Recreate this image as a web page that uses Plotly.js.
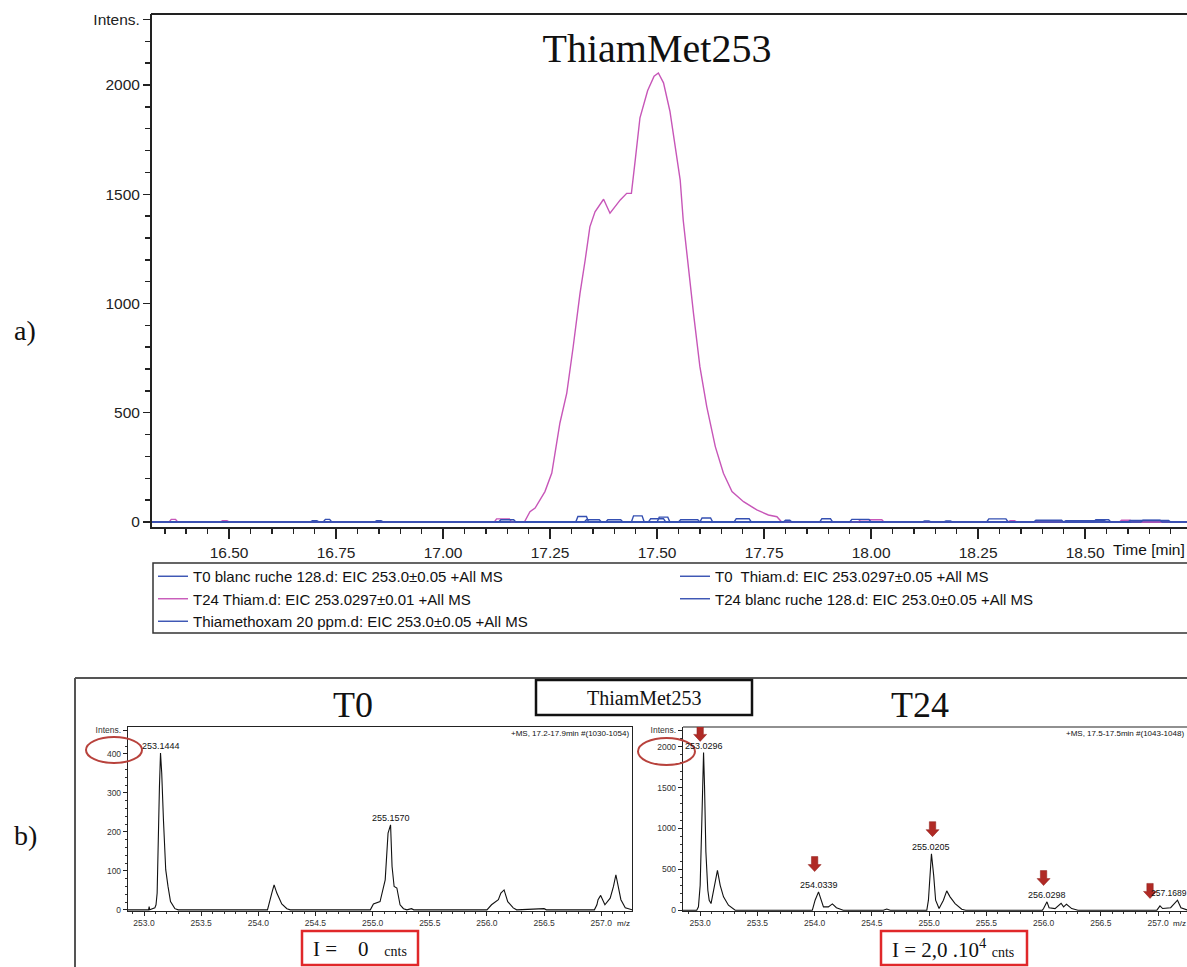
<!DOCTYPE html>
<html>
<head>
<meta charset="utf-8">
<script src="https://cdn.plot.ly/plotly-3.0.1.min.js"></script>
<style>html,body{margin:0;padding:0;background:#fff;overflow:hidden;}#chart{width:1187px;height:967px;}</style>
</head>
<body>
<div id="chart"></div>
<script>
// ---------- a) EIC chromatogram data ----------
const legendNames = [
  "T0 blanc ruche 128.d: EIC 253.0±0.05 +All MS",
  "T0  Thiam.d: EIC 253.0297±0.05 +All MS",
  "T24 Thiam.d: EIC 253.0297±0.01 +All MS",
  "T24 blanc ruche 128.d: EIC 253.0±0.05 +All MS",
  "Thiamethoxam 20 ppm.d: EIC 253.0±0.05 +All MS"
];
const t0BlancTime = [16.32, 16.69, 16.695, 16.705, 16.71, 16.84, 16.845, 16.855, 16.86, 17.33, 17.335, 17.365, 17.37, 18.17, 18.175, 18.185, 18.19, 18.45, 18.455, 18.545, 18.55, 18.74];
const t0BlancInt  = [0, 0, 6, 6, 0, 0, 6, 6, 0, 0, 10, 10, 0, 0, 5, 5, 0, 0, 6, 6, 0, 0];
const t0ThiamTime = [16.32, 16.72, 16.725, 16.735, 16.74, 17.31, 17.315, 17.335, 17.34, 17.44, 17.445, 17.465, 17.47, 17.5, 17.505, 17.525, 17.53, 17.6, 17.605, 17.625, 17.63, 17.88, 17.885, 17.905, 17.91, 18.27, 18.275, 18.315, 18.32, 18.52, 18.525, 18.555, 18.56, 18.74];
const t0ThiamInt  = [0, 0, 12, 12, 0, 0, 25, 25, 0, 0, 28, 28, 0, 0, 22, 22, 0, 0, 18, 18, 0, 0, 15, 15, 0, 0, 14, 14, 0, 0, 10, 10, 0, 0];
const t24ThiamTime = [16.32, 16.36, 16.365, 16.375, 16.38, 16.48, 16.485, 16.495, 16.5, 17.12, 17.125, 17.155, 17.16, 17.19, 17.203, 17.215, 17.238, 17.254, 17.273, 17.289, 17.304, 17.32, 17.332, 17.343, 17.355, 17.375, 17.39, 17.414, 17.429, 17.44, 17.449, 17.46, 17.478, 17.493, 17.503, 17.515, 17.53, 17.546, 17.554, 17.561, 17.573, 17.585, 17.6, 17.616, 17.636, 17.655, 17.675, 17.702, 17.733, 17.76, 17.78, 17.791, 17.97, 17.975, 18.025, 18.03, 18.32, 18.325, 18.335, 18.34, 18.58, 18.585, 18.605, 18.61, 18.74];
const t24ThiamInt  = [0, 0, 12, 12, 0, 0, 6, 6, 0, 0, 14, 14, 0, 0, 47, 64, 139, 224, 453, 590, 802, 1047, 1199, 1351, 1420, 1477, 1413, 1474, 1504, 1504, 1657, 1850, 1975, 2040, 2055, 2010, 1880, 1657, 1565, 1382, 1153, 956, 711, 528, 345, 223, 139, 93, 55, 32, 24, 0, 0, 10, 10, 0, 0, 6, 6, 0, 0, 8, 8, 0, 0];
const t24BlancTime = [16.32, 17.38, 17.385, 17.415, 17.42, 17.55, 17.555, 17.595, 17.6, 17.795, 17.8, 17.81, 17.815, 18.12, 18.125, 18.135, 18.14, 18.38, 18.385, 18.445, 18.45, 18.63, 18.635, 18.675, 18.68, 18.74];
const t24BlancInt  = [0, 0, 10, 10, 0, 0, 10, 10, 0, 0, 8, 8, 0, 0, 5, 5, 0, 0, 8, 8, 0, 0, 8, 8, 0, 0];
const thiamStdTime = [16.32, 17.13, 17.135, 17.165, 17.17, 17.48, 17.485, 17.515, 17.52, 17.68, 17.685, 17.715, 17.72, 17.95, 17.955, 17.995, 18.0, 18.6, 18.605, 18.695, 18.7, 18.74];
const thiamStdInt  = [0, 0, 10, 10, 0, 0, 15, 15, 0, 0, 15, 15, 0, 0, 12, 12, 0, 0, 7, 7, 0, 0];
const timeTicks = [16.5, 16.75, 17.0, 17.25, 17.5, 17.75, 18.0, 18.25, 18.5];
const timeTickText = ["16.50", "16.75", "17.00", "17.25", "17.50", "17.75", "18.00", "18.25", "18.50"];
const intensTicks = [0, 500, 1000, 1500, 2000, 2300];
const intensTickText = ["0", "500", "1000", "1500", "2000", "Intens."];

// ---------- b) mass spectra ----------
const ms0Mz  = [252.86, 253.04, 253.045, 253.05, 253.095, 253.105, 253.115, 253.12, 253.125, 253.135, 253.1444, 253.155, 253.17, 253.19, 253.21, 253.232, 253.27, 253.3, 254.08, 254.09, 254.118, 254.138, 254.162, 254.205, 254.25, 254.28, 254.98, 255.007, 255.065, 255.11, 255.135, 255.157, 255.17, 255.188, 255.212, 255.24, 255.27, 255.3, 255.34, 255.36, 256.0, 256.04, 256.1, 256.122, 256.15, 256.182, 256.23, 256.26, 256.5, 256.52, 256.94, 256.962, 256.972, 256.995, 257.032, 257.078, 257.107, 257.128, 257.15, 257.172, 257.21, 257.27];
const ms0Int = [0, 0, 8, 0, 5, 13, 43, 141, 150, 316, 402, 351, 231, 103, 60, 21, 3, 0, 0, 13, 43, 64, 43, 15, 3, 0, 0, 15, 21, 77, 197, 218, 111, 60, 56, 13, 3, 0, 3, 0, 0, 13, 26, 43, 51, 21, 5, 0, 3, 0, 0, 13, 26, 37, 13, 30, 60, 90, 60, 26, 5, 0];
const ms0LabelMz = [253.1444, 255.157];
const ms0LabelInt = [402, 218];
const ms0LabelText = ["253.1444", "255.1570"];
const ms24Mz  = [252.85, 252.97, 252.985, 253.0, 253.015, 253.0296, 253.038, 253.05, 253.067, 253.079, 253.095, 253.116, 253.131, 253.151, 253.175, 253.204, 253.247, 253.306, 253.98, 254.004, 254.0339, 254.048, 254.077, 254.12, 254.155, 254.19, 254.25, 254.6, 254.63, 254.66, 254.98, 254.994, 255.009, 255.0205, 255.04, 255.057, 255.087, 255.125, 255.154, 255.183, 255.227, 255.285, 255.32, 255.76, 255.78, 255.8, 255.99, 256.0, 256.0298, 256.048, 256.1, 256.153, 256.175, 256.2, 256.246, 256.3, 256.45, 256.47, 256.49, 256.99, 257.017, 257.04, 257.11, 257.17, 257.2, 257.26];
const ms24Int = [0, 0, 41, 304, 1116, 1927, 1521, 711, 243, 122, 81, 224, 325, 487, 304, 163, 61, 0, 0, 122, 224, 163, 41, 41, 77, 30, 0, 0, 15, 0, 0, 122, 426, 690, 426, 122, 20, 122, 236, 163, 81, 12, 0, 0, 8, 0, 0, 20, 102, 30, 20, 85, 41, 73, 20, 0, 0, 8, 0, 0, 53, 20, 30, 122, 30, 0];
const ms24LabelMz = [253.0296, 254.0339, 255.0205, 256.0298, 257.1689];
const ms24LabelInt = [1927, 224, 690, 102, 122];
const ms24LabelText = ["253.0296", "254.0339", "255.0205", "256.0298", "257.1689"];
const arrowMz = [253.0, 254.0, 255.03, 256.0, 256.93];
const arrowInt = [2064, 472, 899, 301, 144];
const mzTicks = [253.0, 253.5, 254.0, 254.5, 255.0, 255.5, 256.0, 256.5, 257.0];
const mzTickText = ["253.0", "253.5", "254.0", "254.5", "255.0", "255.5", "256.0", "256.5", "257.0"];
const ms0YTicks = [0, 100, 200, 300, 400, 460];
const ms0YText = ["0", "100", "200", "300", "400", "Intens."];
const ms24YTicks = [0, 500, 1000, 1500, 2000, 2200];
const ms24YText = ["0", "500", "1000", "1500", "2000", "Intens."];

// ---------- helpers (pixel -> paper) ----------
const W = 1187, H = 967;
const X = p => p / W;
const Y = p => 1 - p / H;

const BLUE = "#3550B2", PINK = "#C756B8";
const SANS = "Liberation Sans, Arial, sans-serif";
const SERIF = "Liberation Serif, Times New Roman, serif";

const traces = [
  {x: t0BlancTime, y: t0BlancInt, name: legendNames[0], line: {color: BLUE, width: 1.4}},
  {x: t0ThiamTime, y: t0ThiamInt, name: legendNames[1], line: {color: BLUE, width: 1.4}},
  {x: t24ThiamTime, y: t24ThiamInt, name: legendNames[2], line: {color: PINK, width: 1.4}},
  {x: t24BlancTime, y: t24BlancInt, name: legendNames[3], line: {color: BLUE, width: 1.4}},
  {x: thiamStdTime, y: thiamStdInt, name: legendNames[4], line: {color: BLUE, width: 1.4}}
].map(t => Object.assign({type: "scatter", mode: "lines", xaxis: "x", yaxis: "y", hoverinfo: "skip"}, t));

traces.push({type: "scatter", mode: "lines", x: ms0Mz, y: ms0Int, xaxis: "x2", yaxis: "y2",
  line: {color: "#111", width: 1.1}, showlegend: false, hoverinfo: "skip"});
traces.push({type: "scatter", mode: "lines", x: ms24Mz, y: ms24Int, xaxis: "x3", yaxis: "y3",
  line: {color: "#111", width: 1.1}, showlegend: false, hoverinfo: "skip"});

const axCommon = {showgrid: false, zeroline: false, showline: true, linecolor: "#222", ticks: "outside", tickcolor: "#222", fixedrange: true, automargin: false};

const x3Range = [252.85, 257.253], y3Range = [-10, 2240];
const x3Dom = [X(683), 1], y3Dom = [Y(911), Y(727)];

const layout = {
  width: W, height: H,
  margin: {l: 0, r: 0, t: 0, b: 0, pad: 0, autoexpand: false},
  paper_bgcolor: "#fff", plot_bgcolor: "#fff",
  showlegend: true,
  title: {text: "ThiamMet253", x: X(657), y: Y(48), xref: "paper", yref: "container", xanchor: "center", yanchor: "middle",
    font: {family: SERIF, size: 40, color: "#111"}, automargin: false},
  legend: {orientation: "h", x: X(153), y: Y(560), xanchor: "left", yanchor: "top",
    entrywidth: 477, entrywidthmode: "pixels", itemwidth: 30, traceorder: "normal",
    font: {family: SANS, size: 15, color: "#111"}, bgcolor: "rgba(0,0,0,0)", borderwidth: 0},
  xaxis: Object.assign({}, axCommon, {domain: [X(152), 1], range: [16.32, 18.738], anchor: "y",
    tickmode: "array", tickvals: timeTicks, ticktext: timeTickText, ticklen: 10, tickwidth: 1.5, linewidth: 2,
    tickfont: {family: SANS, size: 15.5, color: "#222"},
    minor: {tickmode: "linear", tick0: 16.5, dtick: 0.05, ticklen: 5, tickcolor: "#222", ticks: "outside"}}),
  yaxis: Object.assign({}, axCommon, {domain: [Y(527), Y(14)], range: [-23, 2325], anchor: "x",
    tickmode: "array", tickvals: intensTicks, ticktext: intensTickText, ticklen: 7, tickwidth: 1.5, linewidth: 2,
    tickfont: {family: SANS, size: 15.5, color: "#222"},
    minor: {tickmode: "linear", tick0: 0, dtick: 100, ticklen: 5, tickcolor: "#222", ticks: "outside"}}),
  xaxis2: Object.assign({}, axCommon, {domain: [X(128), X(632)], range: [252.86, 257.269], anchor: "y2", mirror: true,
    tickmode: "array", tickvals: mzTicks, ticktext: mzTickText, ticklen: 4, linewidth: 1.2,
    tickfont: {family: SANS, size: 8.5, color: "#333"},
    minor: {tickmode: "linear", tick0: 253, dtick: 0.1, ticklen: 2, tickcolor: "#333", ticks: "outside"}}),
  yaxis2: Object.assign({}, axCommon, {domain: [Y(911), Y(727)], range: [-3, 469], anchor: "x2", mirror: true,
    tickmode: "array", tickvals: ms0YTicks, ticktext: ms0YText, ticklen: 4, linewidth: 1.2,
    tickfont: {family: SANS, size: 8.5, color: "#333"},
    minor: {tickmode: "linear", tick0: 0, dtick: 20, ticklen: 2, tickcolor: "#333", ticks: "outside"}}),
  xaxis3: Object.assign({}, axCommon, {domain: x3Dom, range: x3Range, anchor: "y3",
    tickmode: "array", tickvals: mzTicks, ticktext: mzTickText, ticklen: 4, linewidth: 1.2,
    tickfont: {family: SANS, size: 8.5, color: "#333"},
    minor: {tickmode: "linear", tick0: 253, dtick: 0.1, ticklen: 2, tickcolor: "#333", ticks: "outside"}}),
  yaxis3: Object.assign({}, axCommon, {domain: y3Dom, range: y3Range, anchor: "x3",
    tickmode: "array", tickvals: ms24YTicks, ticktext: ms24YText, ticklen: 4, linewidth: 1.2,
    tickfont: {family: SANS, size: 8.5, color: "#333"},
    minor: {tickmode: "linear", tick0: 0, dtick: 100, ticklen: 2, tickcolor: "#333", ticks: "outside"}}),
  shapes: [
    {type: "line", xref: "paper", yref: "paper", x0: X(151), x1: 1.01, y0: Y(14), y1: Y(14), line: {color: "#222", width: 2}},
    {type: "rect", xref: "paper", yref: "paper", x0: X(153), x1: 1.01, y0: Y(633), y1: Y(563), line: {color: "#333", width: 1.5}},
    {type: "line", xref: "paper", yref: "paper", x0: X(75), x1: X(75), y0: Y(678), y1: -0.01, line: {color: "#555", width: 2}},
    {type: "line", xref: "paper", yref: "paper", x0: X(75), x1: 1.01, y0: Y(678), y1: Y(678), line: {color: "#555", width: 2}},
    {type: "rect", xref: "paper", yref: "paper", x0: X(536), x1: X(752), y0: Y(715), y1: Y(680), fillcolor: "#fff", line: {color: "#111", width: 2.5}},
    {type: "line", xref: "paper", yref: "paper", x0: X(683), x1: 1.01, y0: Y(727), y1: Y(727), line: {color: "#222", width: 1.2}},
    {type: "circle", xref: "paper", yref: "paper", x0: X(86), x1: X(142), y0: Y(763), y1: Y(737), line: {color: "#B8423C", width: 2}},
    {type: "circle", xref: "paper", yref: "paper", x0: X(638), x1: X(695), y0: Y(765), y1: Y(738), line: {color: "#B8423C", width: 2}},
    {type: "rect", xref: "paper", yref: "paper", x0: X(302), x1: X(418), y0: Y(965), y1: Y(931), line: {color: "#E0282A", width: 2.5}},
    {type: "rect", xref: "paper", yref: "paper", x0: X(881), x1: X(1027), y0: Y(965), y1: Y(931), line: {color: "#E0282A", width: 2.5}}
  ],
  annotations: []
};

// red block arrows (path shapes on the T24 spectrum axes; sizes in pixels)
const pxPerMz = ((x3Dom[1] - x3Dom[0]) * W) / (x3Range[1] - x3Range[0]);
const pxPerInt = ((y3Dom[1] - y3Dom[0]) * H) / (y3Range[1] - y3Range[0]);
arrowMz.forEach((m, i) => {
  const v = arrowInt[i];
  const hw = 6.5 / pxPerMz, sw = 3.2 / pxPerMz, hh = 7 / pxPerInt, sh = 15 / pxPerInt;
  const p = [[m, v], [m - hw, v + hh], [m - sw, v + hh], [m - sw, v + sh], [m + sw, v + sh], [m + sw, v + hh], [m + hw, v + hh]];
  layout.shapes.push({type: "path", xref: "x3", yref: "y3",
    path: "M" + p.map(q => q[0] + "," + q[1]).join(" L") + " Z",
    fillcolor: "#B02A25", line: {color: "#8E1E1A", width: 0.5}});
});

const ann = layout.annotations;
function txt(px, py, text, size, family, xanchor, extra) {
  ann.push(Object.assign({xref: "paper", yref: "paper", x: X(px), y: Y(py), text: text, showarrow: false,
    xanchor: xanchor || "center", yanchor: "middle", font: {family: family, size: size, color: "#111"}}, extra || {}));
}
txt(25, 330, "a)", 28, SERIF);
txt(25, 835, "b)", 28, SERIF);
txt(1111, 549, "Time [min]", 15.5, SANS, "left");
txt(353, 705, "T0", 36, SERIF);
txt(920, 705, "T24", 36, SERIF);
txt(644, 698, "ThiamMet253", 20, SERIF);
txt(631, 733, "+MS, 17.2-17.9min #(1030-1054)", 8, SANS, "right");
txt(1064, 733, "+MS, 17.5-17.5min #(1043-1048)", 8, SANS, "left");
txt(623, 923, "m/z", 8, SANS);
txt(1171, 923, "m/z", 8, SANS, "left");
txt(360, 949, "I =&nbsp;&nbsp;&nbsp; 0 &nbsp;&nbsp;<span style='font-size:14px'>cnts</span>", 21, SERIF);
txt(953, 948, "I = 2,0 .10<sup>4</sup> <span style='font-size:14px'>cnts</span>", 21, SERIF);

ms0LabelMz.forEach((m, i) => ann.push({xref: "x2", yref: "y2", x: m, y: ms0LabelInt[i], text: ms0LabelText[i],
  showarrow: false, xanchor: "center", yanchor: "bottom", font: {family: SANS, size: 9, color: "#111"}}));
ms24LabelMz.forEach((m, i) => {
  const last = i === ms24LabelMz.length - 1;
  ann.push({xref: "x3", yref: "y3", x: m, y: ms24LabelInt[i], text: ms24LabelText[i],
    showarrow: false, xanchor: "center", yanchor: "bottom", xshift: last ? -8 : 0,
    font: {family: SANS, size: last ? 8.5 : 9, color: "#111"}});
});

Plotly.newPlot("chart", traces, layout, {staticPlot: true, displayModeBar: false});
</script>
</body>
</html>
